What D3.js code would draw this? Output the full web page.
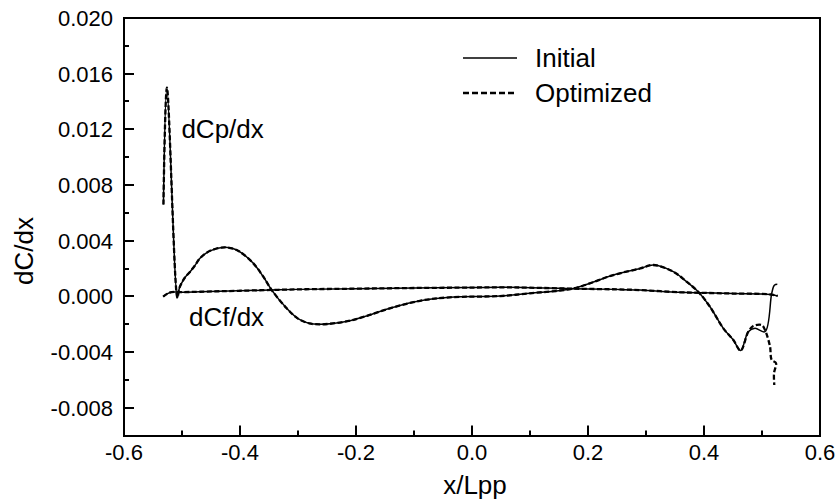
<!DOCTYPE html>
<html>
<head>
<meta charset="utf-8">
<script src="https://cdn.jsdelivr.net/npm/d3@7"></script>
<style>
  html, body { margin: 0; padding: 0; background: #fff; }
  svg { display: block; font-family: "Liberation Sans", Arial, sans-serif; }
</style>
</head>
<body>
<svg id="chart" width="837" height="502"></svg>
<script>
// ---- data ----
const xTicks = [-0.6, -0.4, -0.2, 0.0, 0.2, 0.4, 0.6];
const xTickLabels = ["-0.6", "-0.4", "-0.2", "0.0", "0.2", "0.4", "0.6"];
const xMinorTicks = [-0.5, -0.3, -0.1, 0.1, 0.3, 0.5];
const yTicks = [-0.008, -0.004, 0.000, 0.004, 0.008, 0.012, 0.016, 0.020];
const yTickLabels = ["-0.008", "-0.004", "0.000", "0.004", "0.008", "0.012", "0.016", "0.020"];
const yMinorTicks = [-0.010, -0.006, -0.002, 0.002, 0.006, 0.010, 0.014, 0.018];

const seriesNames = ["Initial", "Optimized"];

const dcpInitialX = [-0.532, -0.526, -0.508, -0.5045, -0.4978, -0.494, -0.486, -0.478, -0.469, -0.4517, -0.4259, -0.41, -0.4, -0.377, -0.3598, -0.3453, -0.3195, -0.30, -0.28, -0.262, -0.24, -0.2103, -0.1816, -0.1414, -0.0897, -0.0379, 0.0483, 0.1, 0.1747, 0.2437, 0.2897, 0.3126, 0.347, 0.370, 0.390, 0.4103, 0.4333, 0.4506, 0.4632, 0.4764, 0.4879, 0.5052, 0.5167, 0.5213, 0.5264];
const dcpInitialY = [0.0066, 0.0150, -0.0001, 0.0006, 0.00117, 0.0014, 0.00177, 0.0022, 0.00273, 0.00327, 0.00352, 0.0034, 0.0032, 0.00237, 0.00141, 0.00045, -0.00086, -0.0016, -0.00195, -0.00201, -0.00195, -0.00175, -0.00141, -0.00086, -0.00032, -0.00007, 0.00002, 0.00022, 0.00057, 0.00153, 0.0020, 0.00225, 0.00177, 0.00105, 0.00033, -0.00075, -0.0023, -0.00314, -0.0039, -0.00254, -0.0023, -0.00254, 0.0002, 0.0008, 0.00086];

const dcpOptimizedX = [-0.532, -0.526, -0.508, -0.5045, -0.4978, -0.494, -0.486, -0.478, -0.469, -0.4517, -0.4259, -0.41, -0.4, -0.377, -0.3598, -0.3453, -0.3195, -0.30, -0.28, -0.262, -0.24, -0.2103, -0.1816, -0.1414, -0.0897, -0.0379, 0.0483, 0.1, 0.1747, 0.2437, 0.2897, 0.3126, 0.347, 0.370, 0.390, 0.4103, 0.4333, 0.4506, 0.4632, 0.4764, 0.485, 0.4994, 0.5052, 0.5138, 0.5167, 0.5241, 0.5207, 0.5212];
const dcpOptimizedY = [0.0066, 0.0150, -0.0001, 0.0006, 0.00117, 0.0014, 0.00177, 0.0022, 0.00273, 0.00327, 0.00352, 0.0034, 0.0032, 0.00237, 0.00141, 0.00045, -0.00086, -0.0016, -0.00195, -0.00201, -0.00195, -0.00175, -0.00141, -0.00086, -0.00032, -0.00007, 0.00002, 0.00022, 0.00057, 0.00153, 0.0020, 0.00225, 0.00177, 0.00105, 0.00033, -0.00075, -0.0023, -0.00314, -0.0039, -0.00254, -0.00213, -0.00206, -0.00242, -0.0036, -0.00457, -0.0048, -0.00553, -0.00637];

const dcfInitialX = [-0.5325, -0.525, -0.518, -0.5, -0.469, -0.4, -0.3, -0.2, -0.1, 0.0, 0.05, 0.1, 0.1747, 0.25, 0.2897, 0.3586, 0.4, 0.45, 0.5138, 0.527];
const dcfInitialY = [-0.00002, 0.0002, 0.0003, 0.0003, 0.00033, 0.0004, 0.0005, 0.00055, 0.0006, 0.00063, 0.00065, 0.00062, 0.00055, 0.0005, 0.00045, 0.00029, 0.00025, 0.0002, 0.00014, 0.00003];
const dcfOptimizedX = dcfInitialX.slice();
const dcfOptimizedY = dcfInitialY.slice();

const annotations = [
  { text: "dCp/dx", x: -0.501, y: 0.0114 },
  { text: "dCf/dx", x: -0.488, y: -0.0021 }
];

// ---- layout ----
const svg = d3.select("#chart");
const mLeft = 124, mRight = 820, mTop = 18, mBottom = 435.5;
const x = d3.scaleLinear().domain([-0.6, 0.6]).range([mLeft, mRight]);
const y = d3.scaleLinear().domain([-0.010, 0.020]).range([mBottom, mTop]);

const toPts = (xs, ys) => xs.map((v, i) => [v, ys[i]]);
const line = d3.line().x(d => x(d[0])).y(d => y(d[1])).curve(d3.curveCatmullRom.alpha(0.5));

// curves
const g = svg.append("g");
function drawSolid(pts) {
  g.append("path").datum(pts).attr("d", line)
    .attr("fill", "none").attr("stroke", "#000").attr("stroke-width", 1.5)
    .attr("stroke-linejoin", "round");
}
function drawDashed(pts) {
  g.append("path").datum(pts).attr("d", line)
    .attr("fill", "none").attr("stroke", "#000").attr("stroke-width", 2.3)
    .attr("stroke-dasharray", "5,2.5");
}
drawSolid(toPts(dcfInitialX, dcfInitialY));
drawSolid(toPts(dcpInitialX, dcpInitialY));
drawDashed(toPts(dcfOptimizedX, dcfOptimizedY));
drawDashed(toPts(dcpOptimizedX, dcpOptimizedY));

// frame and ticks as filled rectangles
const fr = svg.append("g").attr("fill", "#000");
fr.append("rect").attr("x", mLeft - 1).attr("y", mTop - 1).attr("width", 2).attr("height", mBottom - mTop + 2);
fr.append("rect").attr("x", mRight - 1).attr("y", mTop - 1).attr("width", 2).attr("height", mBottom - mTop + 2);
fr.append("rect").attr("x", mLeft - 1).attr("y", mTop - 1).attr("width", mRight - mLeft + 2).attr("height", 2);
fr.append("rect").attr("x", mLeft - 1).attr("y", Math.round(mBottom) - 1).attr("width", mRight - mLeft + 2).attr("height", 2);

xTicks.forEach(v => fr.append("rect").attr("x", Math.round(x(v)) - 1).attr("y", mBottom - 10).attr("width", 2).attr("height", 10));
xMinorTicks.forEach(v => fr.append("rect").attr("x", Math.round(x(v)) - 1).attr("y", mBottom - 5).attr("width", 2).attr("height", 5));
yTicks.forEach(v => fr.append("rect").attr("x", mLeft).attr("y", Math.round(y(v)) - 1).attr("width", 10).attr("height", 2));
yMinorTicks.forEach(v => fr.append("rect").attr("x", mLeft).attr("y", Math.round(y(v)) - 1).attr("width", 5).attr("height", 2));

// tick labels
xTicks.forEach((v, i) => svg.append("text").attr("x", x(v)).attr("y", 460)
  .attr("text-anchor", "middle").attr("font-size", 22).text(xTickLabels[i]));
yTicks.forEach((v, i) => svg.append("text").attr("x", 113).attr("y", y(v))
  .attr("dy", "0.36em").attr("text-anchor", "end").attr("font-size", 22).text(yTickLabels[i]));

// axis titles
svg.append("text").attr("x", 475).attr("y", 494).attr("text-anchor", "middle")
  .attr("font-size", 26).text("x/Lpp");
svg.append("text").attr("transform", "translate(33,251) rotate(-90)")
  .attr("text-anchor", "middle").attr("font-size", 26).text("dC/dx");

// annotations
annotations.forEach(a => {
  svg.append("text").attr("x", x(a.x)).attr("y", y(a.y))
    .attr("font-size", 26).text(a.text);
});

// legend
const leg = svg.append("g");
seriesNames.forEach((name, i) => {
  const ly = 58 + i * 35;
  leg.append("line").attr("x1", 463).attr("x2", 517).attr("y1", ly).attr("y2", ly)
    .attr("stroke", "#000").attr("stroke-width", i === 0 ? 1.5 : 2.3)
    .attr("stroke-dasharray", i === 0 ? null : "6,3");
  leg.append("text").attr("x", 535).attr("y", ly + 9).attr("font-size", 26).text(name);
});
</script>
</body>
</html>
